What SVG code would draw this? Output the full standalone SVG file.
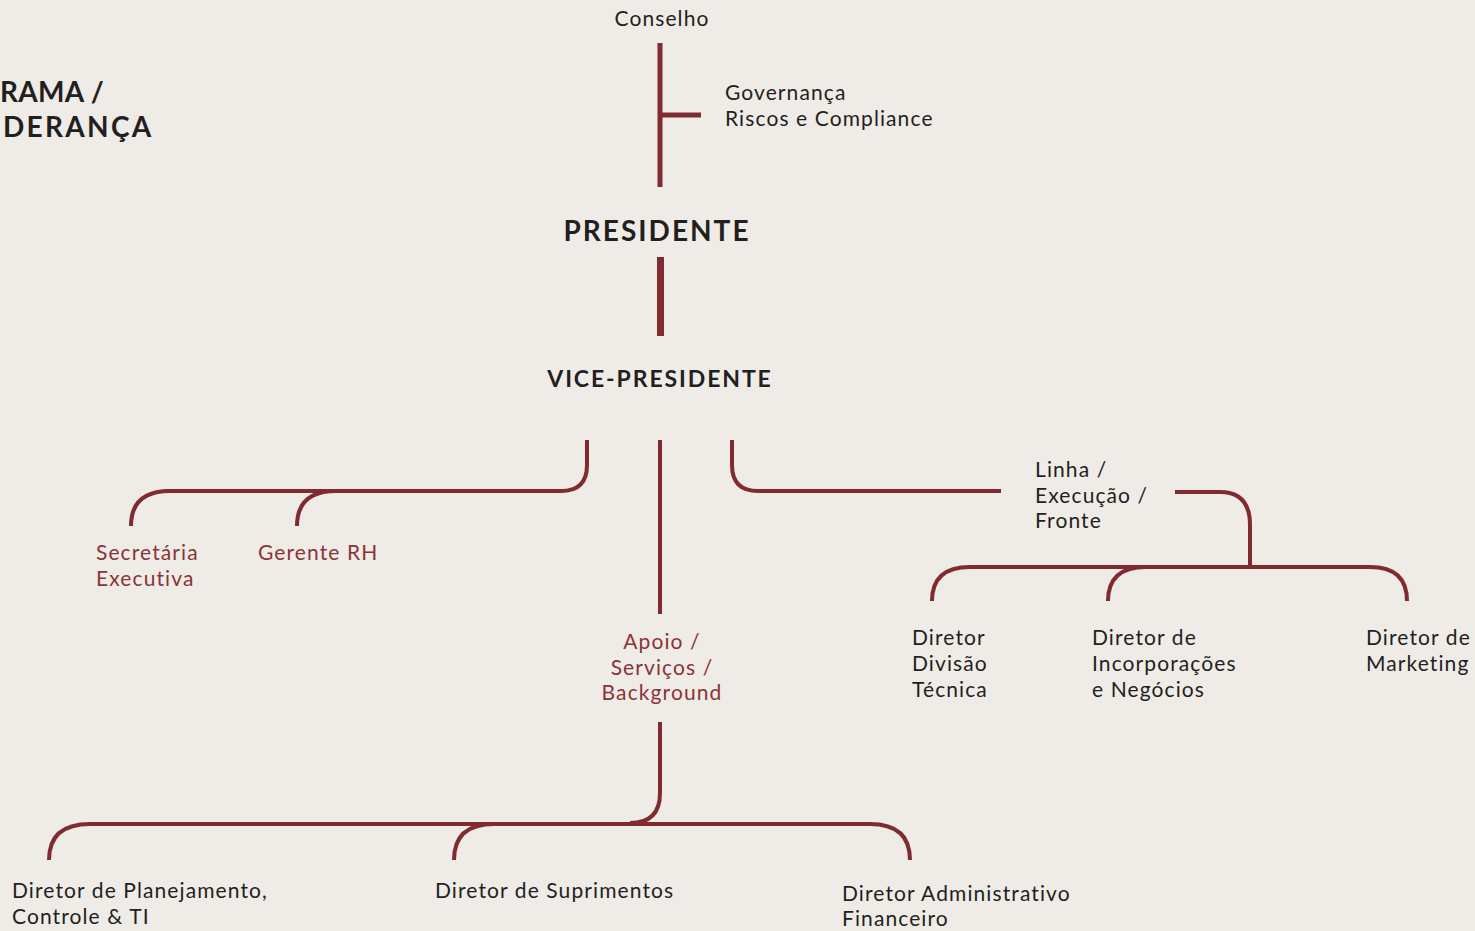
<svg xmlns="http://www.w3.org/2000/svg" width="1475" height="931" viewBox="0 0 1475 931">
<style>
.bg{fill:#efebe7}
.c{fill:none;stroke:#7f2b30;stroke-width:4;stroke-linecap:butt}
.t{font-family:Lato,"Open Sans",sans-serif;font-size:21px;fill:#231f20;letter-spacing:1.1px}
.r{fill:#8a3438}
.h{font-family:Lato,"Noto Sans",sans-serif;font-weight:700;fill:#231f20}
</style>
<rect class="bg" width="1475" height="931"/>
<g id="title">
<text class="h" x="0" y="102" font-size="28" letter-spacing="0.3">RAMA /</text>
<text class="h" x="3" y="137" font-size="28" letter-spacing="2.3">DERANÇA</text>
</g>
<g id="connectors">
<path class="c" style="stroke-width:5" d="M660,43 V187 M660,115 H701"/>
<path class="c" style="stroke-width:7" d="M660.5,257 V336"/>
<path class="c" d="M587,440 V465 Q587,491 561,491 H165"/>
<path class="c" d="M131,526 Q131,491 170,491 H372"/>
<path class="c" d="M297,526 Q297,491 336,491 H372"/>
<path class="c" d="M732,440 V465 Q732,491 758,491 H1001"/>
<path class="c" d="M1175,492 H1220 Q1250,492 1250,525 V567"/>
<path class="c" d="M932,601 Q932,567 970,567 H1370 Q1407,567 1407,601"/>
<path class="c" d="M1108,601 Q1108,567 1146,567 H1180"/>
<path class="c" d="M660,440 V614"/>
<path class="c" d="M660,722 V793 Q660,823 630,823"/>
<path class="c" d="M49,860 Q49,824 90,824 H870 Q910,824 910,860"/>
<path class="c" d="M454,860 Q454,824 494,824 H520"/>
</g>
<g id="conselho"><text class="t" x="662" y="26" text-anchor="middle">Conselho</text></g>
<g id="governanca">
<text class="t" x="725" y="100">Governança</text>
<text class="t" x="725" y="126">Riscos e Compliance</text>
</g>
<g id="presidente"><text class="h" x="657" y="241" font-size="28" font-weight="600" letter-spacing="2" text-anchor="middle">PRESIDENTE</text></g>
<g id="vice-presidente"><text class="h" x="660" y="387" font-size="23" letter-spacing="1.9" text-anchor="middle">VICE-PRESIDENTE</text></g>
<g id="secretaria">
<text class="t r" x="96" y="560">Secretária</text>
<text class="t r" x="96" y="586">Executiva</text>
</g>
<g id="gerente-rh"><text class="t r" x="258" y="560">Gerente RH</text></g>
<g id="apoio">
<text class="t r" x="662" y="649" text-anchor="middle">Apoio /</text>
<text class="t r" x="662" y="675" text-anchor="middle">Serviços /</text>
<text class="t r" x="662" y="700" text-anchor="middle">Background</text>
</g>
<g id="linha">
<text class="t" x="1035" y="477">Linha /</text>
<text class="t" x="1035" y="503">Execução /</text>
<text class="t" x="1035" y="528">Fronte</text>
</g>
<g id="diretor-tecnica">
<text class="t" x="912" y="645">Diretor</text>
<text class="t" x="912" y="671">Divisão</text>
<text class="t" x="912" y="697">Técnica</text>
</g>
<g id="diretor-incorporacoes">
<text class="t" x="1092" y="645">Diretor de</text>
<text class="t" x="1092" y="671">Incorporações</text>
<text class="t" x="1092" y="697">e Negócios</text>
</g>
<g id="diretor-marketing">
<text class="t" x="1366" y="645">Diretor de</text>
<text class="t" x="1366" y="671">Marketing</text>
</g>
<g id="diretor-planejamento">
<text class="t" x="12" y="898">Diretor de Planejamento,</text>
<text class="t" x="12" y="924">Controle &amp; TI</text>
</g>
<g id="diretor-suprimentos"><text class="t" x="435" y="898">Diretor de Suprimentos</text></g>
<g id="diretor-adm">
<text class="t" x="842" y="901">Diretor Administrativo</text>
<text class="t" x="842" y="926">Financeiro</text>
</g>
</svg>
